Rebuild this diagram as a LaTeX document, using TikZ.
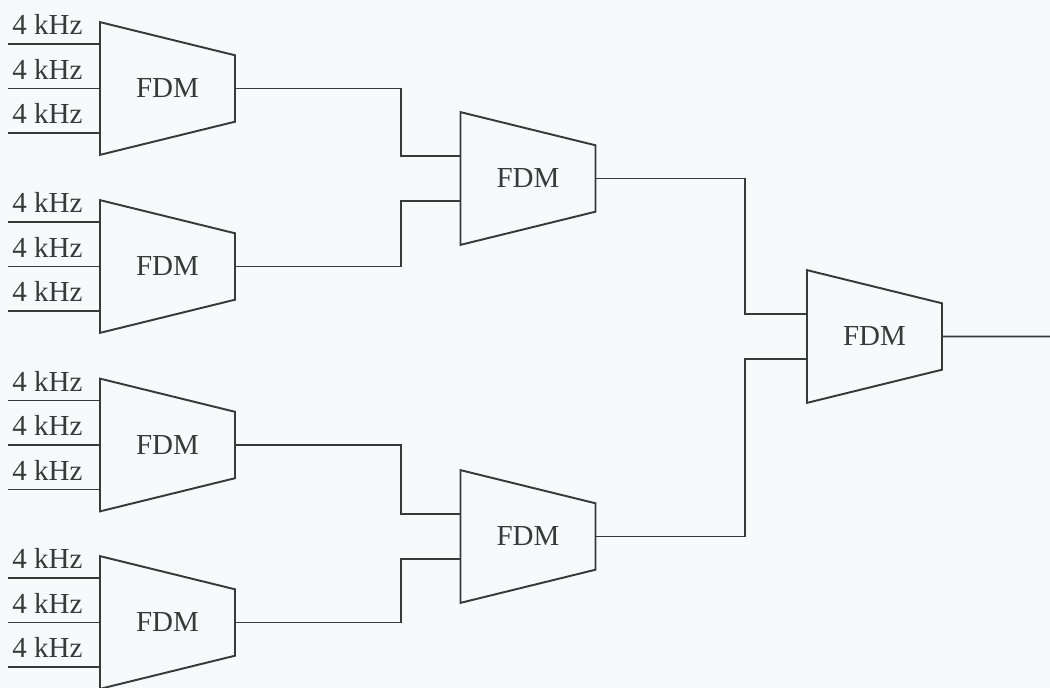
\documentclass[tikz,border=0pt]{standalone}
\usepackage{fontspec}
\setmainfont{Liberation Serif}
\usetikzlibrary{shapes.geometric, calc}
\definecolor{ink}{RGB}{52,60,56}
\definecolor{paper}{RGB}{246,250,251}

\begin{document}
\begin{tikzpicture}[
    x=0.02cm, y=-0.02cm,
    mux/.style={draw=ink, line width=1.1pt, trapezium, shape border rotate=270, trapezium stretches=true, trapezium left angle=81.4, trapezium right angle=81.4, minimum width=2.66cm, minimum height=2.7cm, inner sep=0pt, font=\fontsize{16.5}{20}\selectfont, text=ink},
    lbl/.style={anchor=south west, inner xsep=0.08cm, inner ysep=0.18cm, font=\fontsize{16.5}{20}\selectfont, text=ink},
    wire/.style={draw=ink, line width=1.1pt}
]
\fill[paper] (0,0) rectangle (1050,688);
\useasboundingbox (0,0) rectangle (1050,688);

% First stage
\node[mux] (m1) at (167.5,88.5) {FDM};
\node[mux] (m2) at (167.5,266.5) {FDM};
\node[mux] (m3) at (167.5,445) {FDM};
\node[mux] (m4) at (167.5,622.5) {FDM};

% Second and third stage
\node[mux] (s1) at (528,178.5) {FDM};
\node[mux] (s2) at (528,536.5) {FDM};
\node[mux] (top) at (874.5,336.5) {FDM};

% Input labels
\node[lbl] (a1) at (8,44) {4 kHz};
\node[lbl] (a2) at (8,88.5) {4 kHz};
\node[lbl] (a3) at (8,133) {4 kHz};
\node[lbl] (b1) at (8,222) {4 kHz};
\node[lbl] (b2) at (8,266.5) {4 kHz};
\node[lbl] (b3) at (8,311) {4 kHz};
\node[lbl] (c1) at (8,400.5) {4 kHz};
\node[lbl] (c2) at (8,445) {4 kHz};
\node[lbl] (c3) at (8,489.5) {4 kHz};
\node[lbl] (d1) at (8,578) {4 kHz};
\node[lbl] (d2) at (8,622.5) {4 kHz};
\node[lbl] (d3) at (8,667) {4 kHz};

% Free ends
\coordinate (s1-in1) at ($(s1.180)+(0,-22.5)$);
\coordinate (s1-in2) at ($(s1.180)+(0,22.5)$);
\coordinate (s2-in1) at ($(s2.180)+(0,-22.5)$);
\coordinate (s2-in2) at ($(s2.180)+(0,22.5)$);
\coordinate (top-in1) at ($(top.180)+(0,-22.5)$);
\coordinate (top-in2) at ($(top.180)+(0,22.5)$);
\coordinate (out) at (1050,336.5);

% Inputs
\draw[wire] (a1.south west) -- (a1.south west -| m1.180);
\draw[wire] (a2.south west) -- (a2.south west -| m1.180);
\draw[wire] (a3.south west) -- (a3.south west -| m1.180);
\draw[wire] (b1.south west) -- (b1.south west -| m2.180);
\draw[wire] (b2.south west) -- (b2.south west -| m2.180);
\draw[wire] (b3.south west) -- (b3.south west -| m2.180);
\draw[wire] (c1.south west) -- (c1.south west -| m3.180);
\draw[wire] (c2.south west) -- (c2.south west -| m3.180);
\draw[wire] (c3.south west) -- (c3.south west -| m3.180);
\draw[wire] (d1.south west) -- (d1.south west -| m4.180);
\draw[wire] (d2.south west) -- (d2.south west -| m4.180);
\draw[wire] (d3.south west) -- (d3.south west -| m4.180);

% Links
\draw[wire] (m1.0) -| ($(s1-in1)+(-59,0)$) |- (s1-in1);
\draw[wire] (m2.0) -| ($(s1-in2)+(-59,0)$) |- (s1-in2);
\draw[wire] (m3.0) -| ($(s2-in1)+(-59,0)$) |- (s2-in1);
\draw[wire] (m4.0) -| ($(s2-in2)+(-59,0)$) |- (s2-in2);
\draw[wire] (s1.0) -| ($(top-in1)+(-61,0)$) |- (top-in1);
\draw[wire] (s2.0) -| ($(top-in2)+(-61,0)$) |- (top-in2);
\draw[wire] (top.0) -- (out);

\end{tikzpicture}
\end{document}
